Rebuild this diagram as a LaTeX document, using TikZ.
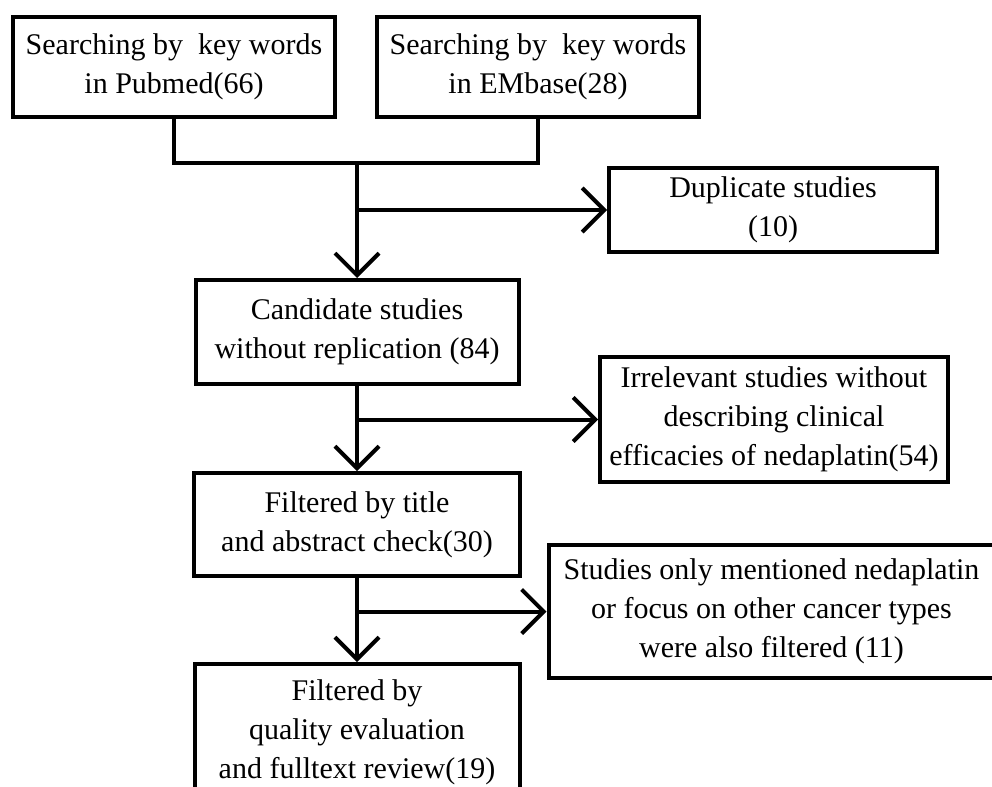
\documentclass[tikz,border=0pt]{standalone}
\usepackage{fontspec}
\setmainfont{Liberation Serif}
\usetikzlibrary{arrows.meta}

\begin{document}
\begin{tikzpicture}[
      x=0.5pt,y=-0.5pt,
      >={Straight Barb[length=11pt,width=22pt]},
      link/.style={line width=2pt,draw=black},
      flow/.style={->,line width=2pt,draw=black},
      stage/.style={draw,line width=2pt,inner sep=0pt,align=center,
        font=\fontsize{15}{19.5}\selectfont}
    ]
    \useasboundingbox (0,0) rectangle (992,787);

    \node[stage,minimum width=161pt,minimum height=50pt] (pubmed) at (174,67)
      {Searching by\ \ key words\\in Pubmed(66)};
    \node[stage,minimum width=161pt,minimum height=50pt] (embase) at (538,67)
      {Searching by\ \ key words\\in EMbase(28)};
    \node[stage,minimum width=164pt,minimum height=42pt] (dup) at (773,210)
      {Duplicate studies\\(10)};
    \node[stage,minimum width=161.5pt,minimum height=52pt] (cand) at (357,332)
      {Candidate studies\\without replication (84)};
    \node[stage,minimum width=174pt,minimum height=62.5pt] (irrel) at (774,419.5)
      {Irrelevant studies without\\describing clinical\\efficacies of nedaplatin(54)};
    \node[stage,minimum width=163pt,minimum height=51.5pt] (title) at (357,524.5)
      {Filtered by title\\and abstract check(30)};
    \node[stage,minimum width=223pt,minimum height=66.5pt] (other) at (771.5,611.5)
      {Studies only mentioned nedaplatin\\or focus on other cancer types\\were also filtered (11)};
    \node[stage,minimum width=162.5pt,minimum height=68pt] (full) at (357,732)
      {Filtered by\\quality evaluation\\and fulltext review(19)};

    \coordinate (merge) at (357,163);
    \draw[link] (pubmed.south) |- (merge) -| (embase.south);
    \draw[flow] (merge) -- (cand.north);
    \draw[flow] (merge |- dup.west) -- (dup.west);

    \draw[flow] (cand.south) -- (title.north);
    \draw[flow] (cand.south |- irrel.west) -- (irrel.west);

    \draw[flow] (title.south) -- (full.north);
    \draw[flow] (title.south |- other.west) -- (other.west);
  \end{tikzpicture}
\end{document}
